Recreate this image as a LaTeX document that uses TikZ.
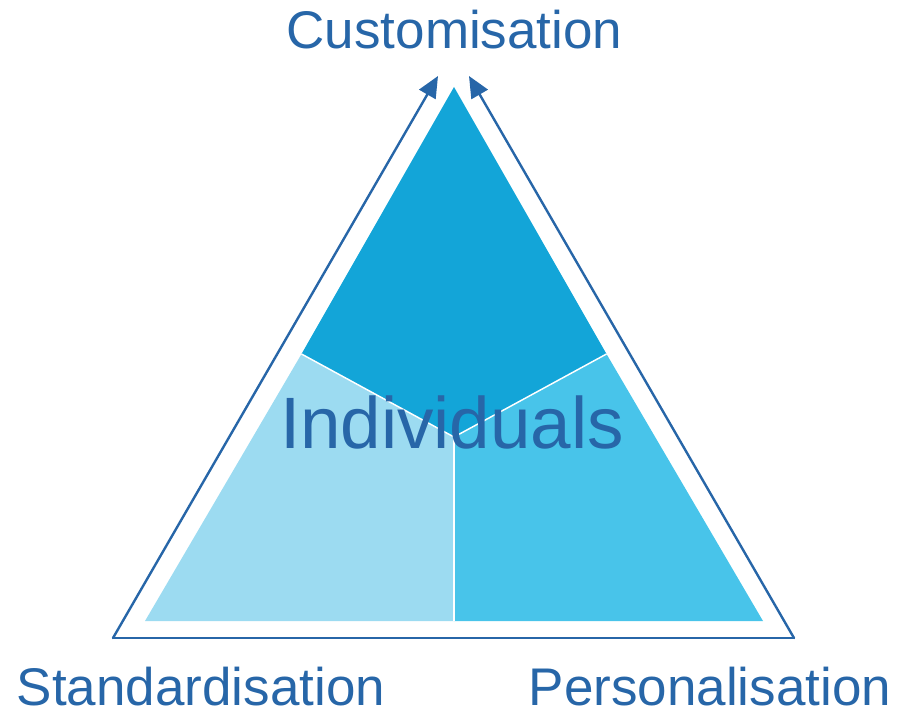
\documentclass[tikz,border=0pt]{standalone}
\usepackage{fontspec}
\setmainfont{Liberation Sans}
\usetikzlibrary{arrows.meta}

\definecolor{inkblue}{HTML}{2766A8}
\definecolor{topblue}{HTML}{13A5D8}
\definecolor{leftblue}{HTML}{9CDBF1}
\definecolor{rightblue}{HTML}{48C4EA}

\begin{document}
\begin{tikzpicture}
        [
          x=0.75pt, y=-0.75pt,
          label/.style={anchor=base, inner sep=0pt, text=inkblue, font=\fontsize{39.75}{46}\selectfont},
          biglabel/.style={label, font=\fontsize{54.6}{62}\selectfont},
          frame/.style={draw=inkblue, line width=1.8pt, line cap=round, line join=round},
          region/.style={draw=white, line width=1.1pt, line join=round}
        ]
        \useasboundingbox (0,0) rectangle (904,713);
        % inner triangle points
        \coordinate (apex) at (454,87);
        \coordinate (bl) at (145,621);
        \coordinate (br) at (763,621);
        \coordinate (ml) at (301.5,354);
        \coordinate (mr) at (606.5,354);
        \coordinate (mid) at (454,437);
        \coordinate (mb) at (454,621);
        % regions
        \fill [topblue] (apex) -- (mr) -- (mid) -- (ml) -- cycle;
        \fill [leftblue] (ml) -- (mid) -- (mb) -- (bl) -- cycle;
        \fill [rightblue] (mr) -- (br) -- (mb) -- (mid) -- cycle;
        \draw [region] (ml) -- (mid) -- (mr);
        \draw [region] (mid) -- (mb);
        % outer frame
        \coordinate (cl) at (113,638);
        \coordinate (cr) at (794,638);
        \coordinate (tl) at (438,76);
        \coordinate (tr) at (469,76);
        \draw [frame] (cl) -- (cr);
        \draw [frame, -{Triangle[length=16pt, width=14pt]}] (cl) -- (tl);
        \draw [frame, -{Triangle[length=16pt, width=14pt]}] (cr) -- (tr);
        % labels
        \node [label] (cust) at (454.5,49) {Customisation};
        \node [label] (stand) at (201,705) {Standardisation};
        \node [label] (pers) at (710,705) {Personalisation};
        \node [biglabel] (indiv) at (452,448) {Individuals};
\end{tikzpicture}
\end{document}
